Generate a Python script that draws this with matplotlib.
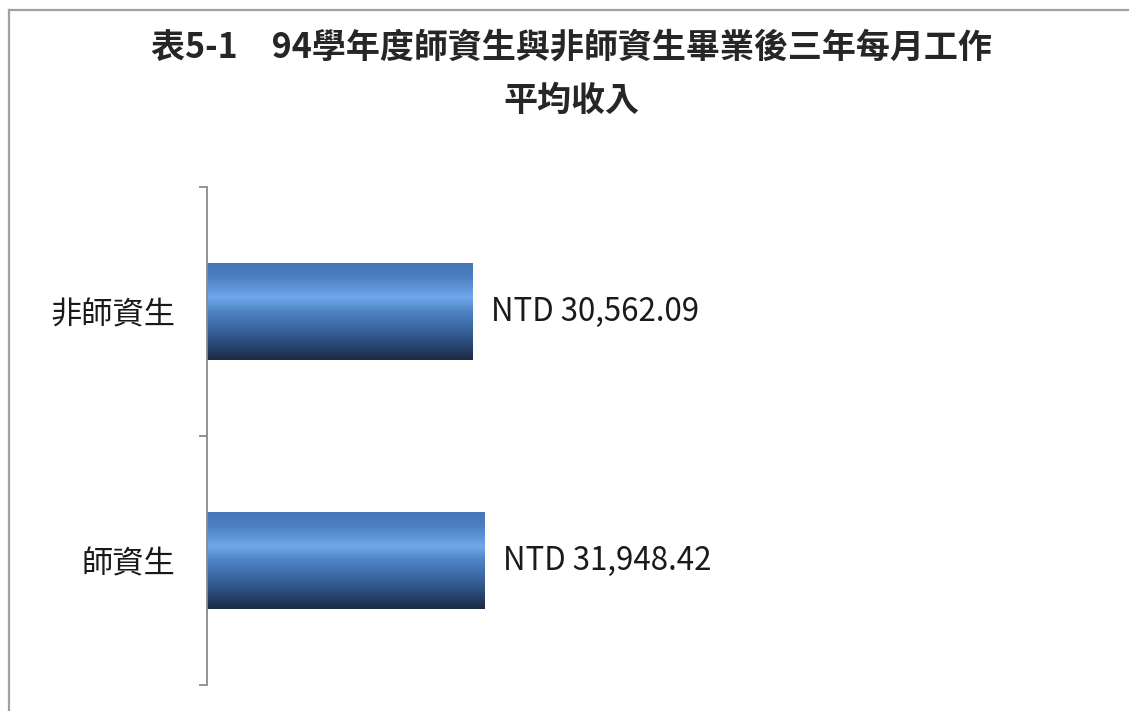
import numpy as np
import matplotlib.pyplot as plt
from matplotlib.colors import LinearSegmentedColormap
from matplotlib.lines import Line2D

plt.rcParams['font.family'] = ['Noto Sans CJK TC', 'DejaVu Sans']

# ---------------------------------------------------------
# Data
# ---------------------------------------------------------
categories = ['師資生', '非師資生']
income = [31948.42, 30562.09]
title_lines = ['表5-1\u300094學年度師資生與非師資生畢業後三年每月工作', '平均收入']

# ---------------------------------------------------------
# Figure / axes
# ---------------------------------------------------------
fig = plt.figure(figsize=(11.29, 7.11), dpi=100)
ax = fig.add_axes([207 / 1129, 26 / 711, 870 / 1129, 498 / 711])

y = np.arange(len(categories))
bars = ax.barh(y, income, height=0.39, color='none', edgecolor='none')

# vertical gradient like the Excel bevel fill
grad_cmap = LinearSegmentedColormap.from_list('bar', [
    (0.0, '#4676b6'),
    (0.15, '#4b7fc2'),
    (0.36, '#70a8ec'),
    (0.50, '#4f84c4'),
    (0.66, '#3c6aa6'),
    (0.83, '#2b4a78'),
    (1.0, '#1b2a44'),
])
grad = np.linspace(0, 1, 256)[:, None]
for bar in bars:
    x0, y0 = bar.get_x(), bar.get_y()
    w, h = bar.get_width(), bar.get_height()
    im = ax.imshow(grad, extent=[x0, x0 + w, y0, y0 + h], aspect='auto',
                   cmap=grad_cmap, zorder=2, interpolation='bicubic')
    im.set_clip_path(bar)

for yi, v in zip(y, income):
    ax.annotate(f'NTD {v:,.2f}', xy=(v, yi), xytext=(13, 0),
                textcoords='offset points', ha='left', va='center',
                fontsize=22.5, color='#1a1a1a')

ax.set_xlim(0, 100000)
ax.set_ylim(-0.5, len(categories) - 0.5)

for s in ['top', 'right', 'bottom']:
    ax.spines[s].set_visible(False)
ax.spines['left'].set_color('#8a8a8a')
ax.spines['left'].set_linewidth(1.3)

ax.set_xticks([])
ax.set_yticks(y)
ax.set_yticklabels(categories, fontsize=22.5, color='#1a1a1a')
ax.tick_params(axis='y', which='major', length=0, pad=23)
ax.set_yticks(np.arange(-0.5, len(categories)), minor=True)
ax.tick_params(axis='y', which='minor', length=6, width=1.3, color='#8a8a8a')

# title
fig.text(571 / 1129, 1 - 47 / 711, title_lines[0], ha='center', va='center',
         fontsize=24.5, fontweight='bold', color='#262626')
fig.text(571 / 1129, 1 - 100 / 711, title_lines[1], ha='center', va='center',
         fontsize=24.5, fontweight='bold', color='#262626')

# chart border (only top and left edges visible in the crop)
fig.add_artist(Line2D([8.5 / 1129, 1], [1 - 9.5 / 711, 1 - 9.5 / 711],
                      transform=fig.transFigure, color='#a0a0a0', lw=1.6))
fig.add_artist(Line2D([8.5 / 1129, 8.5 / 1129], [0, 1 - 9.5 / 711],
                      transform=fig.transFigure, color='#a0a0a0', lw=1.6))

fig.savefig('out.png', dpi=100)
